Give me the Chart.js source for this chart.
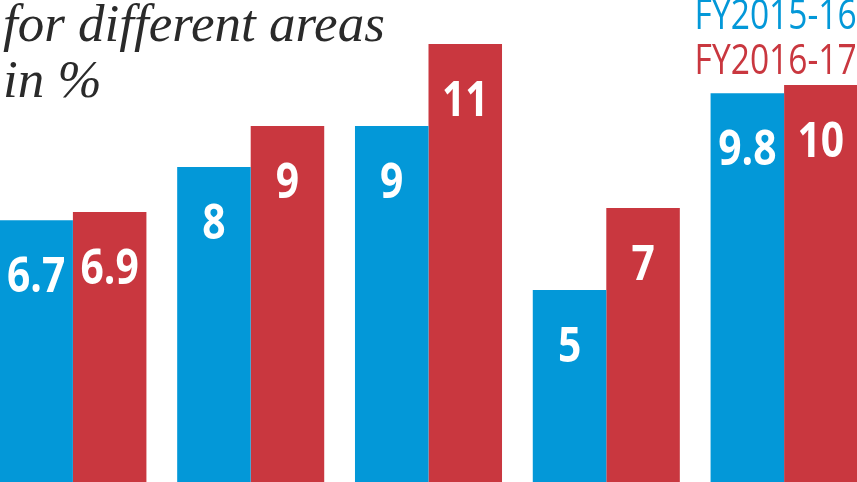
<!DOCTYPE html>
<html lang="en">
<head>
<meta charset="UTF-8">
<title>Growth for different areas</title>
<script src="https://cdn.jsdelivr.net/npm/chart.js"></script>
<style>
  html, body {margin: 0; padding: 0; width: 857px; height: 482px; overflow: hidden; background: #fff;}
  #wrap {position: absolute; left: -16px; top: 0; width: 889px; height: 495px;}
  .title {position: absolute; left: 3px; font-family: "Liberation Serif", serif; font-style: italic;
          font-size: 53px; color: #2a2a2a; white-space: nowrap; line-height: 1; z-index: 2;}
  .leg {position: absolute; right: 0; font-family: "Open Sans", sans-serif; font-size: 42px;
        white-space: nowrap; line-height: 1; transform: scaleX(0.8); transform-origin: right; z-index: 2;}
</style>
</head>
<body>
<div class="title" style="top:-3px">for different areas</div>
<div class="title" style="top:53px">in %</div>
<div class="leg" style="top:-8px; color:#0398d8">FY2015-16</div>
<div class="leg" style="top:37px; color:#c9373f">FY2016-17</div>
<div id="wrap"><canvas id="chart"></canvas></div>
<script>
const categories = ['Area 1', 'Area 2', 'Area 3', 'Area 4', 'Area 5'];
const fy2015 = [6.7, 8, 9, 5, 9.8];
const fy2016 = [6.9, 9, 11, 7, 10];
const seriesNames = ['FY2015-16', 'FY2016-17'];

// white numbers drawn inside the top of each bar
const barLabels = {
  id: 'barLabels',
  afterDatasetsDraw(chart) {
    const ctx = chart.ctx;
    chart.data.datasets.forEach((ds, i) => {
      chart.getDatasetMeta(i).data.forEach((bar, j) => {
        ctx.save();
        ctx.translate(bar.x, bar.y + 72);
        ctx.scale(0.85, 1);
        ctx.font = 'bold 48px "Open Sans"';
        ctx.fillStyle = '#fff';
        ctx.textAlign = 'center';
        ctx.textBaseline = 'alphabetic';
        ctx.fillText(String(ds.data[j]), 0, 0);
        ctx.restore();
      });
    });
  }
};

new Chart(document.getElementById('chart'), {
  type: 'bar',
  data: {
    labels: categories,
    datasets: [
      {label: seriesNames[0], data: fy2015, backgroundColor: '#0398d8'},
      {label: seriesNames[1], data: fy2016, backgroundColor: '#c9373f'}
    ]
  },
  options: {
    responsive: true,
    maintainAspectRatio: false,
    animation: false,
    layout: {padding: 0},
    datasets: {bar: {barPercentage: 1, categoryPercentage: 0.827, borderWidth: 0}},
    plugins: {legend: {display: false}, tooltip: {enabled: false}},
    scales: {
      x: {display: false},
      y: {display: false, min: 0, max: 12.073}
    }
  },
  plugins: [barLabels]
});
</script>
</body>
</html>
